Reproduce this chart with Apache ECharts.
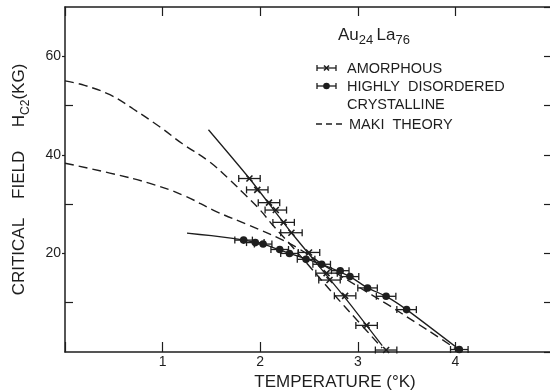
<!DOCTYPE html>
<html>
<head>
<meta charset="utf-8">
<script src="https://cdn.jsdelivr.net/npm/echarts@6/dist/echarts.min.js"></script>
<style>
  html, body { margin: 0; padding: 0; background: #fff; }
  #chart { width: 550px; height: 391px; }
</style>
</head>
<body>
<div id="chart"></div>
<script>
// ---- data ----
const tempTickLabels = [1, 2, 3, 4];
const fieldTickLabels = [20, 40, 60];
const fieldMinorTicks = [10, 30, 50];

// amorphous Au24La76 (crosses, horizontal error bars)
const amorphT = [1.89, 1.97, 2.09, 2.16, 2.24, 2.32, 2.50, 2.68, 2.71, 2.87, 3.09, 3.29];
const amorphH = [35.2, 32.9, 30.3, 28.8, 26.3, 24.2, 20.2, 16.0, 14.6, 11.4, 5.4, 0.4];
const amorphErr = [0.11, 0.11, 0.11, 0.11, 0.11, 0.11, 0.11, 0.11, 0.11, 0.11, 0.11, 0.11];

// highly disordered crystalline (filled circles)
const crystT = [1.83, 1.95, 2.03, 2.20, 2.30, 2.47, 2.63, 2.82, 2.92, 3.10, 3.29, 3.50, 4.04];
const crystH = [22.7, 22.2, 21.9, 20.8, 20.0, 18.8, 17.8, 16.5, 15.3, 13.0, 11.3, 8.6, 0.5];
const crystErr = [0.09, 0.09, 0.09, 0.09, 0.09, 0.09, 0.09, 0.09, 0.09, 0.1, 0.1, 0.1, 0.09];

// solid guide lines through the data
const amorphLineT = [1.47, 1.89, 2.32, 2.87, 3.25];
const amorphLineH = [45.1, 35.2, 24.2, 11.0, 1.3];
const crystLineT = [1.25, 1.50, 1.70, 1.83, 2.03, 2.30, 2.63, 2.92, 3.10, 3.29, 3.50, 4.04];
const crystLineH = [24.1, 23.6, 23.1, 22.7, 21.9, 20.0, 17.8, 15.3, 13.0, 11.3, 8.6, 0.5];

// Maki theory (dashed)
const makiAmorphT = [0, 0.20, 0.46, 0.70, 0.97, 1.20, 1.48, 1.69, 1.83, 2.00, 2.13, 2.30, 2.50, 2.75, 3.00, 3.25];
const makiAmorphH = [55.0, 54.1, 52.2, 49.3, 45.7, 42.3, 38.6, 34.9, 32.2, 28.8, 25.7, 22.0, 17.5, 11.8, 6.3, 0.8];
const makiCrystT = [0, 0.46, 0.87, 1.21, 1.55, 1.89, 2.20, 2.40, 2.70, 3.00, 3.30, 3.60, 3.85, 4.05];
const makiCrystH = [38.3, 36.3, 34.2, 31.8, 28.5, 25.7, 23.0, 20.9, 17.0, 13.3, 9.7, 5.9, 2.7, 0];

// ---- chart ----
const INK = '#1e1e1e';
const FONT = 'Liberation Sans';
const pairs = (xs, ys) => xs.map((x, i) => [x, ys[i]]);
const triples = (xs, ys, es, kind) => xs.map((x, i) => [x, ys[i], es[i], kind]);

function renderErr(params, api) {
  const t = api.value(0), h = api.value(1), e = api.value(2), kind = api.value(3);
  const c = api.coord([t, h]);
  const l = api.coord([t - e, h]);
  const r = api.coord([t + e, h]);
  const cap = 3.5;
  const st = { stroke: INK, lineWidth: 1.3 };
  const children = [
    { type: 'line', shape: { x1: l[0], y1: c[1], x2: r[0], y2: c[1] }, style: st },
    { type: 'line', shape: { x1: l[0], y1: c[1] - cap, x2: l[0], y2: c[1] + cap }, style: st },
    { type: 'line', shape: { x1: r[0], y1: c[1] - cap, x2: r[0], y2: c[1] + cap }, style: st }
  ];
  if (kind === 0) {
    const s = 3;
    children.push({ type: 'line', shape: { x1: c[0] - s, y1: c[1] - s, x2: c[0] + s, y2: c[1] + s }, style: { stroke: INK, lineWidth: 1.6 } });
    children.push({ type: 'line', shape: { x1: c[0] - s, y1: c[1] + s, x2: c[0] + s, y2: c[1] - s }, style: { stroke: INK, lineWidth: 1.6 } });
  } else {
    children.push({ type: 'circle', shape: { cx: c[0], cy: c[1], r: 3.8 }, style: { fill: INK } });
  }
  return { type: 'group', children };
}

const axisLineStyle = { color: INK, width: 1.5 };

const chart = echarts.init(document.getElementById('chart'), null, { renderer: 'canvas' });
chart.setOption({
  backgroundColor: '#fff',
  animation: false,
  grid: { left: 65, top: 7, width: 488, height: 345, containLabel: false, outerBoundsMode: 'none' },
  xAxis: [
    {
      type: 'value', position: 'bottom', min: 0, max: 5, interval: 1,
      axisLine: { onZero: false, lineStyle: axisLineStyle },
      axisTick: { inside: true, length: 10, lineStyle: { color: INK, width: 1.2 } },
      splitLine: { show: false },
      axisLabel: {
        margin: 3, color: INK, fontFamily: FONT, fontSize: 14,
        formatter: v => (tempTickLabels.indexOf(v) >= 0 ? String(v) : '')
      },
      name: 'TEMPERATURE (°K)', nameLocation: 'middle', nameGap: 18,
      nameTextStyle: { color: INK, fontFamily: FONT, fontSize: 17, padding: [0, 0, 0, 52] }
    },
    {
      type: 'value', position: 'top', min: 0, max: 5, interval: 1,
      axisLine: { onZero: false, lineStyle: axisLineStyle },
      axisTick: { inside: true, length: 9, lineStyle: { color: INK, width: 1.2 } },
      axisLabel: { show: false }, splitLine: { show: false }
    }
  ],
  yAxis: [
    {
      type: 'value', position: 'left', min: 0, max: 70, interval: 10,
      axisLine: { onZero: false, lineStyle: axisLineStyle },
      axisTick: { inside: false, length: 3, customValues: fieldTickLabels, lineStyle: { color: INK, width: 1.2 } },
      splitLine: { show: false },
      axisLabel: {
        margin: 4, color: INK, fontFamily: FONT, fontSize: 14, customValues: fieldTickLabels,
        formatter: v => (fieldTickLabels.indexOf(v) >= 0 ? String(v) : '')
      },
      name: '{a|CRITICAL    FIELD     H}{s|C2}{a|(KG)}',
      nameLocation: 'middle', nameGap: 33, nameRotate: 90,
      nameTextStyle: {
        color: INK, fontFamily: FONT, fontSize: 17,
        rich: {
          a: { fontFamily: FONT, fontSize: 17, color: INK, lineHeight: 26 },
          s: { fontFamily: FONT, fontSize: 12, color: INK, lineHeight: 14, verticalAlign: 'bottom' }
        }
      }
    },
    {
      type: 'value', position: 'left', min: 0, max: 70, interval: 10,
      axisLine: { show: false, onZero: false },
      axisTick: { inside: true, length: 8, customValues: fieldMinorTicks, lineStyle: { color: INK, width: 1.2 } },
      axisLabel: { show: false }, splitLine: { show: false }
    },
    {
      type: 'value', position: 'right', min: 0, max: 70, interval: 10,
      axisLine: { onZero: false, lineStyle: axisLineStyle },
      axisTick: { inside: true, length: 9, lineStyle: { color: INK, width: 1.2 } },
      axisLabel: { show: false }, splitLine: { show: false }
    }
  ],
  series: [
    {
      name: 'Maki amorphous', type: 'line', data: pairs(makiAmorphT, makiAmorphH),
      smooth: 0.4, symbol: 'none', lineStyle: { color: INK, width: 1.4, type: [9, 5] }
    },
    {
      name: 'Maki crystalline', type: 'line', data: pairs(makiCrystT, makiCrystH),
      smooth: 0.5, symbol: 'none', lineStyle: { color: INK, width: 1.4, type: [9, 5] }
    },
    {
      name: 'amorphous line', type: 'line', data: pairs(amorphLineT, amorphLineH),
      smooth: 0.2, symbol: 'none', lineStyle: { color: INK, width: 1.3 }
    },
    {
      name: 'crystalline line', type: 'line', data: pairs(crystLineT, crystLineH),
      smooth: 0.2, symbol: 'none', lineStyle: { color: INK, width: 1.3 }
    },
    {
      name: 'AMORPHOUS', type: 'custom', renderItem: renderErr,
      data: triples(amorphT, amorphH, amorphErr, 0), encode: { x: 0, y: 1 }, z: 5
    },
    {
      name: 'HIGHLY DISORDERED CRYSTALLINE', type: 'custom', renderItem: renderErr,
      data: triples(crystT, crystH, crystErr, 1), encode: { x: 0, y: 1 }, z: 5
    }
  ],
  graphic: [
    {
      type: 'text', left: 338, top: 27,
      style: {
        text: '{n|Au}{s|24} {n|La}{s|76}',
        rich: {
          n: { fontFamily: FONT, fontSize: 17, fill: INK, lineHeight: 22 },
          s: { fontFamily: FONT, fontSize: 13, fill: INK, lineHeight: 14, verticalAlign: 'bottom' }
        }
      }
    },
    // legend: amorphous
    { type: 'line', shape: { x1: 317, y1: 68, x2: 336, y2: 68 }, style: { stroke: INK, lineWidth: 1.3 } },
    { type: 'line', shape: { x1: 317, y1: 65, x2: 317, y2: 71 }, style: { stroke: INK, lineWidth: 1.3 } },
    { type: 'line', shape: { x1: 336, y1: 65, x2: 336, y2: 71 }, style: { stroke: INK, lineWidth: 1.3 } },
    { type: 'line', shape: { x1: 324, y1: 65.5, x2: 329, y2: 70.5 }, style: { stroke: INK, lineWidth: 1.6 } },
    { type: 'line', shape: { x1: 324, y1: 70.5, x2: 329, y2: 65.5 }, style: { stroke: INK, lineWidth: 1.6 } },
    { type: 'text', left: 347, top: 61, style: { text: 'AMORPHOUS', fontFamily: FONT, fontSize: 14.5, fill: INK } },
    // legend: crystalline
    { type: 'line', shape: { x1: 317, y1: 86, x2: 336, y2: 86 }, style: { stroke: INK, lineWidth: 1.3 } },
    { type: 'line', shape: { x1: 317, y1: 83, x2: 317, y2: 89 }, style: { stroke: INK, lineWidth: 1.3 } },
    { type: 'line', shape: { x1: 336, y1: 83, x2: 336, y2: 89 }, style: { stroke: INK, lineWidth: 1.3 } },
    { type: 'circle', shape: { cx: 326.5, cy: 86, r: 3.3 }, style: { fill: INK } },
    { type: 'text', left: 347, top: 79, style: { text: 'HIGHLY  DISORDERED', fontFamily: FONT, fontSize: 14.5, fill: INK } },
    { type: 'text', left: 347, top: 97, style: { text: 'CRYSTALLINE', fontFamily: FONT, fontSize: 14.5, fill: INK } },
    // legend: Maki theory
    { type: 'line', shape: { x1: 316, y1: 124, x2: 342, y2: 124 }, style: { stroke: INK, lineWidth: 1.3, lineDash: [6, 4] } },
    { type: 'text', left: 349, top: 117, style: { text: 'MAKI  THEORY', fontFamily: FONT, fontSize: 14.5, fill: INK } }
  ]
});
</script>
</body>
</html>
